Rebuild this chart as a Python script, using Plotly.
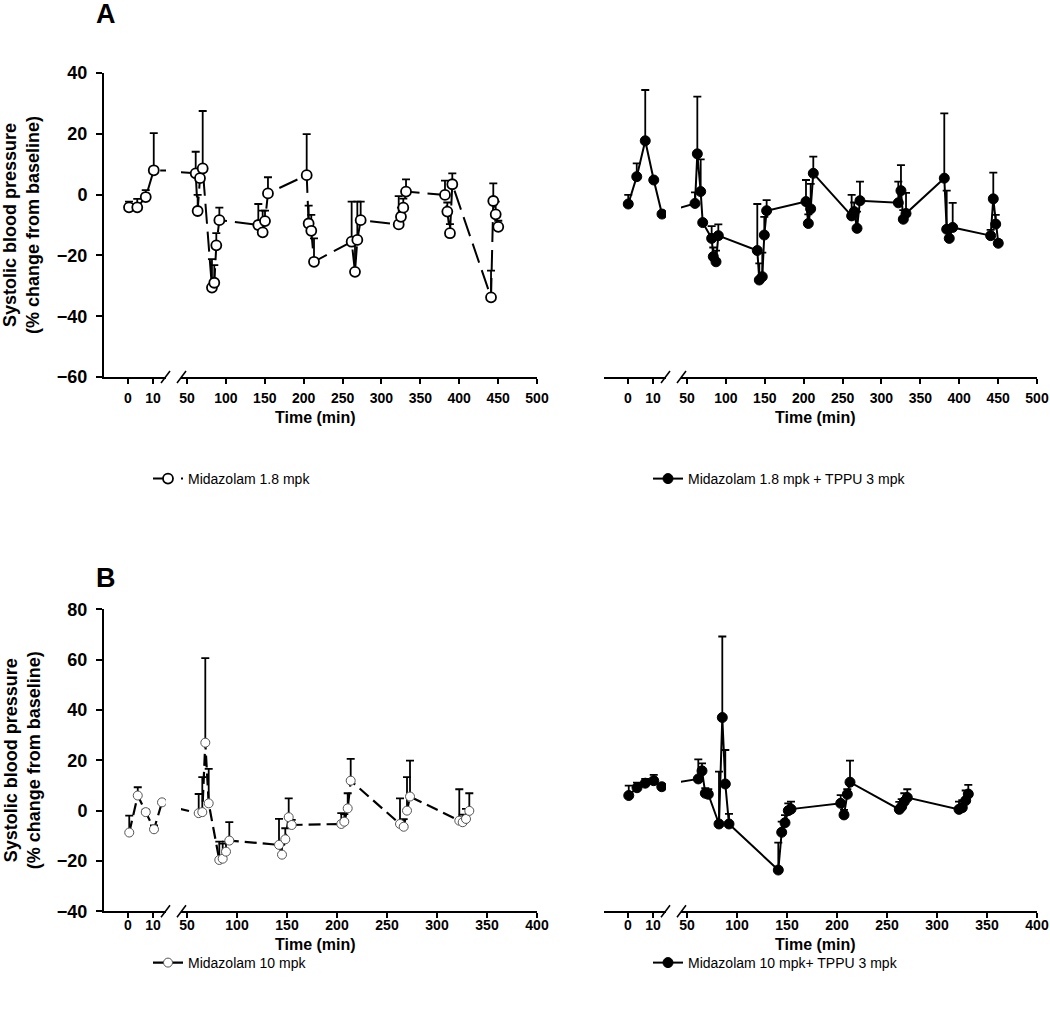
import plotly.graph_objects as go

W, H = 1050, 1025

# ---------------- data ----------------
# Panel A: Midazolam 1.8 mpk
a_mid_t = [0.4, 3.7, 7.1, 10.3,
           61.2, 63.7, 66.7, 70.2,
           82.1, 85.1, 87.7, 91.6,
           141.7, 147.3, 150.3, 154.1,
           203.9, 206.4, 209.8, 213.3,
           261.7, 266.0, 269.0, 273.3,
           322.2, 325.1, 328.1, 331.6,
           381.7, 384.7, 388.1, 391.1,
           440.9, 443.8, 446.9, 450.2]
a_mid_y = [-4.2, -4.2, -0.8, 8.0,
           7.0, -5.4, 5.4, 8.6,
           -30.6, -29.0, -16.7, -8.4,
           -10.0, -12.4, -8.7, 0.4,
           6.4, -9.5, -11.9, -22.1,
           -15.5, -25.4, -14.9, -8.4,
           -9.8, -7.3, -4.3, 1.0,
           -0.1, -5.6, -12.7, 3.4,
           -33.8, -2.1, -6.5, -10.6]
a_mid_err = [1.9, 2.8, 2.3, 12.2,
             7.1, 5.3, 3.0, 18.9,
             9.4, 5.8, 4.0, 4.1,
             6.9, 7.1, 3.4, 5.3,
             13.5, 5.9, 5.2, 7.7,
             13.2, 9.0, 12.6, 6.1,
             9.3, 3.0, 3.0, 4.0,
             4.7, 3.0, 3.0, 3.6,
             8.8, 5.8, 4.2, 2.0]

# Panel A: Midazolam 1.8 mpk + TPPU 3 mpk
a_tppu_t = [0.1, 3.5, 6.9, 10.3, 13.6,
            60.3, 63.3, 67.6, 70.2,
            81.7, 83.8, 87.3, 90.3,
            140.4, 143.0, 146.8, 149.4, 152.4,
            203.0, 206.0, 209.0, 212.4,
            261.7, 265.0, 268.6, 272.4,
            321.7, 325.1, 328.1, 331.6,
            380.8, 383.9, 387.2, 391.6,
            440.4, 443.8, 446.9, 450.2]
a_tppu_y = [-3.1, 5.9, 17.7, 4.8, -6.4,
            -2.9, 13.4, 1.0, -9.2,
            -14.4, -20.4, -22.1, -13.5,
            -18.4, -28.1, -27.0, -13.3, -5.3,
            -2.3, -9.5, -4.7, 7.0,
            -7.0, -5.6, -11.1, -2.0,
            -2.7, 1.3, -8.1, -6.2,
            5.4, -11.4, -14.4, -10.8,
            -13.5, -1.4, -9.7, -16.0]
a_tppu_err = [3.0, 4.4, 16.7, 0, 0,
              3.6, 18.8, 10.6, 0,
              4.0, 3.0, 3.7, 3.7,
              15.3, 5.5, 7.9, 6.0, 3.5,
              7.1, 3.0, 8.2, 5.5,
              6.9, 3.0, 5.5, 6.3,
              7.0, 8.4, 3.0, 6.8,
              21.3, 12.7, 3.0, 8.1,
              1.9, 8.6, 3.0, 1.1]

# Panel B: Midazolam 10 mpk
b_mid_t = [0.5, 3.9, 7.1, 10.4, 13.6,
           61.7, 65.3, 68.3, 71.7,
           82.3, 85.7, 89.0, 92.3,
           142.0, 145.0, 148.3, 151.7, 154.7,
           204.3, 207.3, 210.7, 213.7,
           263.0, 266.7, 270.0, 273.0,
           322.3, 325.7, 329.0, 332.3]
b_mid_y = [-8.7, 6.0, -0.6, -7.4, 3.3,
           -1.0, -0.6, 27.0, 2.9,
           -19.6, -19.1, -16.3, -11.9,
           -13.6, -17.5, -11.4, -2.6, -5.7,
           -5.3, -4.4, 0.9, 11.9,
           -5.3, -6.4, 0.0, 5.6,
           -4.0, -4.6, -3.3, -0.1]
b_mid_err = [6.7, 3.3, 1.0, 1.5, 0,
             7.6, 13.9, 33.6, 13.7,
             7.3, 6.0, 4.0, 7.3,
             10.3, 5.0, 4.4, 7.5, 2.0,
             4.3, 3.0, 6.0, 8.7,
             10.2, 3.0, 13.3, 14.3,
             12.5, 3.0, 4.0, 7.0]

# Panel B: Midazolam 10 mpk + TPPU 3 mpk
b_tppu_t = [0.3, 3.6, 6.9, 10.3, 13.5,
            61.3, 65.0, 68.3, 71.3,
            82.0, 85.3, 88.3, 92.0,
            141.3, 144.7, 148.0, 151.3, 154.0,
            203.7, 207.0, 210.3, 213.0,
            262.3, 264.7, 267.3, 270.3,
            322.0, 325.3, 328.7, 331.3]
b_tppu_y = [6.0, 9.1, 10.9, 11.9, 9.5,
            12.6, 15.8, 6.9, 6.5,
            -5.3, 37.0, 10.6, -5.3,
            -23.6, -8.6, -4.8, 0.0, 0.6,
            2.9, -1.7, 6.5, 11.3,
            0.5, 1.6, 3.6, 5.2,
            0.5, 1.2, 4.0, 6.6]
b_tppu_err = [3.9, 2.0, 1.7, 2.3, 0,
              7.8, 3.0, 2.0, 2.0,
              20.8, 32.2, 13.5, 4.0,
              10.9, 4.2, 3.0, 2.9, 3.0,
              3.3, 2.0, 2.0, 8.6,
              3.0, 3.0, 3.3, 3.3,
              3.1, 3.0, 4.0, 3.6]

seg1_ticks = [0, 10]
a_seg2_ticks = [50, 100, 150, 200, 250, 300, 350, 400, 450, 500]
b_seg2_ticks = [50, 100, 150, 200, 250, 300, 350, 400]
a_yticks = [-60, -40, -20, 0, 20, 40]
b_yticks = [-40, -20, 0, 20, 40, 60, 80]

labels = ["Midazolam 1.8 mpk", "Midazolam 1.8 mpk + TPPU 3 mpk",
          "Midazolam 10 mpk", "Midazolam 10 mpk+ TPPU 3 mpk"]

# ---------------- layout helpers (page pixels -> paper fractions) ----------------
def fx(px):
    return px / W

def fy(py):
    return 1 - py / H

BOLD = "Liberation Sans, Arial, sans-serif"
NARROW = "Liberation Sans Narrow, Arial Narrow, Liberation Sans"

fig = go.Figure()

A_top, A_bot = 73, 377
B_top, B_bot = 609.3, 911.3
seg1_px = (104, 166)
seg2_px = (181, 537)
seg1_range = [-9.6, 15.2]
a_seg2_range = [42.3, 500]
b_seg2_range = [44, 400]

def xaxis_cfg(px0, px1, rng, ticks, yname, standoff):
    return dict(domain=[fx(px0), fx(px1)], range=rng, anchor=yname,
                automargin=False,
                showline=True, linecolor="black", linewidth=2,
                ticks="outside", ticklen=5, tickwidth=1.5, tickcolor="black",
                tickvals=ticks, ticktext=[str(t) for t in ticks],
                ticklabelstandoff=standoff,
                tickfont=dict(family=NARROW, size=14, color="black", weight="bold"),
                showgrid=False, zeroline=False, fixedrange=True)

def yaxis_cfg(py0, py1, rng, ticks, xname):
    return dict(domain=[fy(py1), fy(py0)], range=rng, anchor=xname,
                automargin=False,
                showline=True, linecolor="black", linewidth=2,
                ticks="outside", ticklen=6, tickwidth=1.5, tickcolor="black",
                tickvals=ticks, ticklabelstandoff=5,
                tickfont=dict(family=BOLD, size=18, color="black", weight="bold"),
                showgrid=False, zeroline=False, fixedrange=True)

layout = dict(width=W, height=H, margin=dict(l=0, r=0, t=0, b=0, autoexpand=False),
              plot_bgcolor="white", paper_bgcolor="white", showlegend=True)

layout["yaxis"] = yaxis_cfg(A_top, A_bot, [-60, 40], a_yticks, "x")
layout["yaxis2"] = yaxis_cfg(B_top, B_bot, [-40, 80], b_yticks, "x5")

layout["xaxis"] = xaxis_cfg(seg1_px[0], seg1_px[1], seg1_range, seg1_ticks, "y", 2)
layout["xaxis2"] = xaxis_cfg(seg2_px[0], seg2_px[1], a_seg2_range, a_seg2_ticks, "y", 2)
layout["xaxis3"] = xaxis_cfg(seg1_px[0] + 500, seg1_px[1] + 500, seg1_range, seg1_ticks, "y", 2)
layout["xaxis4"] = xaxis_cfg(seg2_px[0] + 500, seg2_px[1] + 500, a_seg2_range, a_seg2_ticks, "y", 2)
layout["xaxis5"] = xaxis_cfg(seg1_px[0], seg1_px[1], seg1_range, seg1_ticks, "y2", -5)
layout["xaxis6"] = xaxis_cfg(seg2_px[0], seg2_px[1], b_seg2_range, b_seg2_ticks, "y2", -5)
layout["xaxis7"] = xaxis_cfg(seg1_px[0] + 500, seg1_px[1] + 500, seg1_range, seg1_ticks, "y2", -5)
layout["xaxis8"] = xaxis_cfg(seg2_px[0] + 500, seg2_px[1] + 500, b_seg2_range, b_seg2_ticks, "y2", -5)

fig.update_layout(**layout)

def add_series(t, y, err, axes, yname, style, legend_name, label):
    for i, xa in enumerate(axes):
        fig.add_trace(go.Scatter(
            x=t, y=y, xaxis=xa, yaxis=yname, mode="lines+markers",
            name=label, legend=legend_name, showlegend=(i == 0),
            line=dict(color="black", width=style["lw"], dash=style["dash"]),
            marker=dict(size=style["ms"], color=style["fill"],
                        line=dict(color=style["edge"], width=style["ew"])),
            error_y=dict(type="data", symmetric=False, array=err,
                         arrayminus=[0] * len(err), color="black",
                         thickness=1.8, width=4),
        ))

open_a = dict(lw=2, dash="20px,8px", ms=10, fill="white", edge="black", ew=1.8)
fill_a = dict(lw=2, dash="solid", ms=10, fill="black", edge="black", ew=1)
open_b = dict(lw=2.2, dash="12px,6px", ms=9, fill="white", edge="#555555", ew=1)
fill_b = dict(lw=2, dash="solid", ms=10, fill="black", edge="black", ew=1)

add_series(a_mid_t, a_mid_y, a_mid_err, ["x", "x2"], "y", open_a, "legend", labels[0])
add_series(a_tppu_t, a_tppu_y, a_tppu_err, ["x3", "x4"], "y", fill_a, "legend2", labels[1])
add_series(b_mid_t, b_mid_y, b_mid_err, ["x5", "x6"], "y2", open_b, "legend3", labels[2])
add_series(b_tppu_t, b_tppu_y, b_tppu_err, ["x7", "x8"], "y2", fill_b, "legend4", labels[3])

def legend_cfg(px, py):
    return dict(x=fx(px), y=fy(py), xanchor="left", yanchor="middle",
                bgcolor="rgba(0,0,0,0)", borderwidth=0,
                font=dict(family=NARROW, size=14, color="black"))

fig.update_layout(legend=legend_cfg(148, 479), legend2=legend_cfg(648, 479),
                  legend3=legend_cfg(148, 963), legend4=legend_cfg(648, 963))

# axis break marks
shapes = []
for dx in (0, 500):
    for ybase in (A_bot, B_bot):
        for x0 in (161, 177):
            shapes.append(dict(type="line", xref="paper", yref="paper",
                               x0=fx(x0 + dx), y0=fy(ybase + 6),
                               x1=fx(x0 + 9 + dx), y1=fy(ybase - 6),
                               line=dict(color="black", width=1.5)))
fig.update_layout(shapes=shapes)

def note(text, px, py, size, angle=0):
    return dict(text=text, x=fx(px), y=fy(py), xref="paper", yref="paper",
                xanchor="center", yanchor="middle", textangle=angle,
                showarrow=False,
                font=dict(family=BOLD, size=size, color="black", weight="bold"))

ann = [note("A", 106, 14, 27), note("B", 106, 578, 27)]
ytitle = "Systolic blood pressure<br>(% change from baseline)"
for yc in ((A_top + A_bot) / 2, (B_top + B_bot) / 2):
    ann.append(note(ytitle, 22, yc, 18, -90))
for dx in (0, 500):
    ann.append(note("Time (min)", 315 + dx, 418, 16))
    ann.append(note("Time (min)", 315 + dx, 944, 16))
fig.update_layout(annotations=ann)

# remove the default page margin so the figure fills the 1050x1025 window exactly
fig.write_html("out.html",
               config={"displayModeBar": False},
               post_script="document.body.style.margin='0px';document.body.style.padding='0px';")
